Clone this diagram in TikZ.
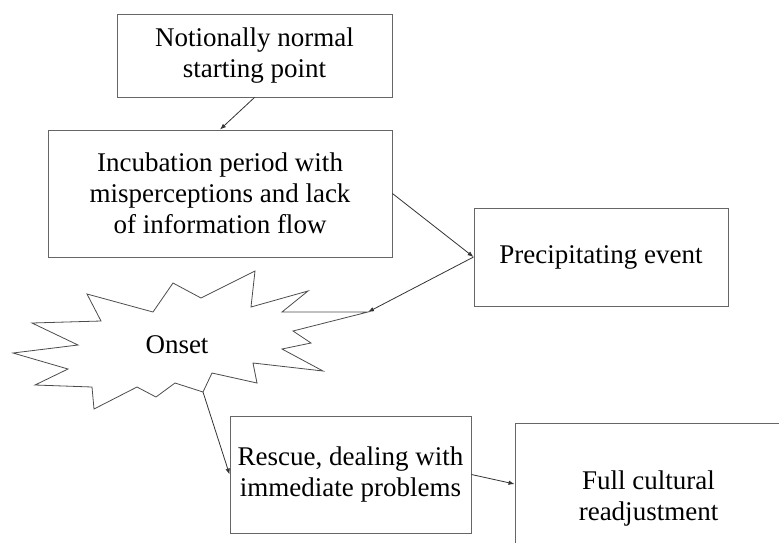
\documentclass[tikz,border=0pt]{standalone}
\usepackage{fontspec}
\setmainfont{Liberation Serif}
\usetikzlibrary{arrows.meta}

\begin{document}
\begin{tikzpicture}[x=1pt,y=-1pt,
      stage/.style={draw=black!60,line width=0.9pt,inner sep=2pt,align=center,
        font=\fontsize{27}{31}\selectfont},
      arr/.style={draw=black!80,line width=0.8pt,-{Latex[length=6pt,width=4.5pt]}}]
      \useasboundingbox (0,0) rectangle (779,542);
      % stages
      \node [stage,minimum width=275pt,minimum height=83pt] (start) at (254.5,55.5) {Notionally normal\\starting point};
      \node [stage,minimum width=344pt,minimum height=127pt] (incub) at (220,193.5) {Incubation period with\\misperceptions and lack\\of information flow};
      \node [stage,minimum width=254pt,minimum height=98pt] (precip) at (601,257) {Precipitating event};
      \node [stage,minimum width=241pt,minimum height=117pt] (rescue) at (350.5,474.5) {Rescue, dealing with\\immediate problems};
      \node [stage,minimum width=267pt,minimum height=150pt] (full) at (648.5,498) {Full cultural\\readjustment};
      % onset burst
      \draw [black!70,line width=0.8pt] (173,283) -- (201,298) -- (255,271) -- (251,307) -- (308,291)
        -- (282,312) -- (368,312) -- (293,331) -- (311,343) -- (282,349) -- (323,371) -- (253,363)
        -- (257,383) -- (212,373) -- (203,392) -- (175,383) -- (156,397) -- (137,387) -- (94,409)
        -- (92,387) -- (35,385) -- (68,369) -- (13,353) -- (78,345) -- (32,323) -- (101,321)
        -- (87,294) -- (153,312) -- cycle;
      \coordinate (onsettip) at (368,312);
      \coordinate (onsetfoot) at (203,392);
      \node [font=\fontsize{27}{31}\selectfont] (onset) at (177,345) {Onset};
      % connectors
      \draw [arr] (start.south) -- (incub.north);
      \draw [arr] (incub.east) -- (precip.west);
      \draw [arr] (precip.west) -- (onsettip);
      \draw [arr] (onsetfoot) -- (rescue.west);
      \draw [arr] (rescue.east) -- ([yshift=14pt]full.west);
\end{tikzpicture}
\end{document}
